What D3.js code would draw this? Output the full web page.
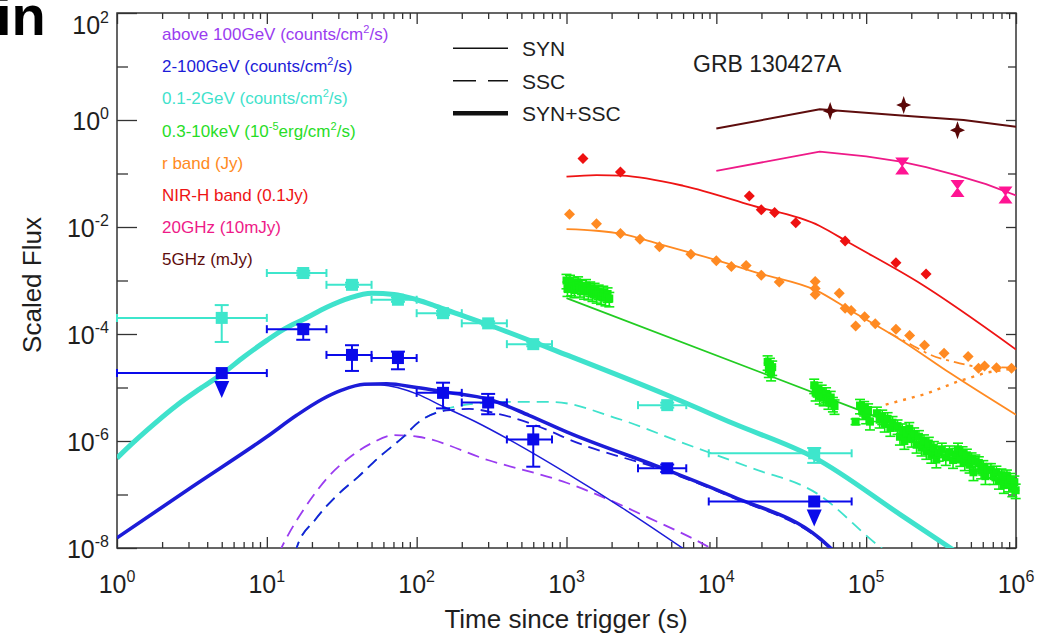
<!DOCTYPE html>
<html>
<head>
<meta http-equiv="Content-Type" content="text/html;charset=utf-8">
<title>GRB 130427A</title>
<script src="https://cdn.jsdelivr.net/npm/d3@7"></script>
<style type="text/css">
body { margin: 0; background: #fff; }
svg text { font-family: "Liberation Sans", Arial, Helvetica, sans-serif; fill: #1e1e1e; }
.tick line { stroke: #333; stroke-width: 1.3px; }
.frame { fill: none; stroke: #333; stroke-width: 1.5px; }
.model { fill: none; stroke-linejoin: round; }
</style>
</head>
<body>
<script type="text/javascript">
// values: time since trigger (s), scaled flux

// Fermi-LAT time bins, shared by both LAT bands
var latT  = [5, 17.5, 37, 75, 150, 300, 600, 4700, 45000];
var latT0 = [1, 10, 25, 50, 100, 200, 400, 3000, 8900];
var latT1 = [10, 25, 50, 100, 200, 400, 800, 6300, 80000];

// 0.1-2 GeV
var lowF  = [2.0e-4, 1.38e-3, 8.3e-4, 4.37e-4, 2.45e-4, 1.58e-4, 6.46e-5, 4.68e-6, 5.89e-7];
var lowLo = [7.1e-5, 1.25e-3, 7.6e-4, 4.0e-4, 2.25e-4, 1.45e-4, 5.9e-5, 4.2e-6, 3.9e-7];
var lowHi = [3.47e-4, 1.52e-3, 9.1e-4, 4.8e-4, 2.7e-4, 1.72e-4, 7.1e-5, 5.2e-6, 7.4e-7];

// 2-100 GeV (first and last are upper limits)
var highF  = [1.86e-5, 1.23e-4, 4.07e-5, 3.55e-5, 7.94e-6, 5.25e-6, 1.07e-6, 3.09e-7, 7.41e-8];
var highLo = [null, 7.8e-5, 2.04e-5, 2.19e-5, 4.07e-6, 3.16e-6, 3.31e-7, 2.63e-7, null];
var highHi = [null, 1.5e-4, 6.17e-5, 4.68e-5, 1.23e-5, 7.59e-6, 1.9e-6, 3.63e-7, null];
var highUL = [1, 0, 0, 0, 0, 0, 0, 0, 1];

// 0.3-10 keV: [time, flux, fractional error]
var xrt = [
  [1000,1.0e-3,.3],[1015,7.2e-4,.3],[1035,8.6e-4,.3],[1055,9.6e-4,.3],[1075,7.4e-4,.3],
  [1100,8.8e-4,.3],[1130,6.8e-4,.3],[1160,8.2e-4,.3],[1195,9.0e-4,.3],[1230,7.0e-4,.3],
  [1270,7.8e-4,.3],[1310,6.4e-4,.3],[1350,8.0e-4,.3],[1400,6.2e-4,.3],[1440,7.2e-4,.3],
  [1490,5.8e-4,.3],[1540,6.8e-4,.3],[1590,5.4e-4,.3],[1640,6.3e-4,.3],[1700,5.1e-4,.3],
  [1760,6.0e-4,.3],[1820,4.8e-4,.3],[1880,5.6e-4,.3],[1930,4.6e-4,.3],
  [22000,3.0e-5,.3],[22400,2.2e-5,.3],[22800,2.7e-5,.3],[23200,1.9e-5,.3],[23600,2.4e-5,.3],
  [45000,1.1e-5,.3],[46000,8.0e-6,.3],[47500,9.5e-6,.3],[49000,7.0e-6,.3],[50500,8.5e-6,.3],
  [52000,6.5e-6,.3],[54000,7.6e-6,.3],[56000,5.6e-6,.3],[58000,6.5e-6,.3],[60000,5.0e-6,.3],
  [61500,4.5e-6,.3],
  [85000,2.3e-6,.12],
  [91000,4.6e-6,.3],[94000,3.6e-6,.3],[97000,4.2e-6,.3],[100000,3.0e-6,.3],[103000,3.8e-6,.3],
  [106000,2.3e-6,.3],
  [118000,3.3e-6,.3],[123000,2.5e-6,.3],[128000,2.9e-6,.3],[133000,2.1e-6,.3],[139000,2.6e-6,.3],
  [145000,1.75e-6,.3],[150000,2.2e-6,.3],
  [162000,1.9e-6,.3],[168000,1.2e-6,.3],[174000,1.6e-6,.3],[180000,1.0e-6,.3],[187000,1.4e-6,.3],
  [194000,1.7e-6,.3],[201000,1.1e-6,.3],[209000,1.35e-6,.3],[217000,8.5e-7,.3],[225000,1.2e-6,.3],
  [234000,7.5e-7,.3],[243000,1.0e-6,.3],[252000,6.5e-7,.3],[262000,9.0e-7,.3],[272000,5.5e-7,.3],
  [283000,7.5e-7,.3],[294000,4.5e-7,.3],[305000,6.0e-7,.3],
  [320000,7.0e-7,.3],[340000,5.0e-7,.3],[360000,6.2e-7,.3],[380000,4.4e-7,.3],[400000,5.6e-7,.3],
  [410000,7.0e-7,.3],[425000,4.8e-7,.3],[440000,6.0e-7,.3],[455000,4.0e-7,.3],[470000,5.4e-7,.3],
  [490000,3.6e-7,.3],[505000,4.6e-7,.3],[520000,2.6e-7,.3],[535000,4.2e-7,.3],
  [565000,3.9e-7,.3],[585000,2.8e-7,.3],[605000,3.3e-7,.3],[625000,2.2e-7,.3],[645000,2.9e-7,.3],
  [680000,2.9e-7,.3],[710000,2.2e-7,.3],[740000,2.6e-7,.3],[770000,1.8e-7,.3],[800000,2.3e-7,.3],
  [830000,1.5e-7,.3],[850000,2.0e-7,.3],
  [870000,2.2e-7,.3],[895000,1.6e-7,.3],[920000,1.9e-7,.3],[945000,1.3e-7,.3],[975000,1.7e-7,.3],
  [995000,1.2e-7,.3]
];

// r band
var rT = [1047, 1585, 2290, 3090, 4170, 6760, 10000, 12600, 15800, 19950, 26300, 45700, 45700, 45700,
          66100, 72400, 79400, 85100, 97700, 115000, 158000, 195000, 245000, 331000, 479000, 562000,
          617000, 741000, 933000];
var rF = [0.0174, 0.01148, 7.59e-3, 5.89e-3, 4.27e-3, 3.09e-3, 2.34e-3, 1.82e-3, 1.9e-3, 1.26e-3,
          9.33e-4, 9.55e-4, 7.08e-4, 5.5e-4, 5.75e-4, 3.02e-4, 2.75e-4, 1.41e-4, 2.09e-4, 1.55e-4,
          1.23e-4, 9.33e-5, 6.17e-5, 4.37e-5, 3.8e-5, 2.29e-5, 2.51e-5, 2.34e-5, 2.29e-5];

// NIR H band
var hT = [1288, 2290, 16600, 19950, 24500, 33900, 72400, 158000, 251000];
var hF = [0.191, 0.107, 0.038, 0.0209, 0.0186, 0.012, 5.5e-3, 2.14e-3, 1.32e-3];

// 20 GHz and 5 GHz
var g20T = [174000, 407000, 851000];
var g20F = [0.138, 0.0525, 0.0398];
var g5T  = [57500, 178000, 407000];
var g5F  = [1.48, 1.905, 0.646];

// model curves, [time, flux]
var sscVhe = [[12.0,7.94e-9],[12.6,1.05e-8],[19.5,7.94e-8],[25.7,2.14e-7],[36.3,5.13e-7],[50.1,9.12e-7],
  [70.8,1.29e-6],[102,1.2e-6],[302,4.37e-7],[1000,1.66e-7],[3630,3.55e-8],[9120,1e-8],[10500,7.94e-9]];
var sscLow = [[15.5,7.94e-9],[15.8,1e-8],[20.9,3.31e-8],[28.8,9.12e-8],[40.7,2.14e-7],[56.2,5.01e-7],
  [79.4,1.12e-6],[105,2.34e-6],[158,3.98e-6],[251,5.01e-6],[398,5.37e-6],[794,5.37e-6],[2190,2.63e-6],
  [6030,9.12e-7],[17000,3.16e-7],[46800,1.05e-7],[120000,1.12e-8],[141000,7.94e-9]];
var sscHigh = [[15.5,7.94e-9],[15.8,1e-8],[20.9,3.31e-8],[28.8,9.12e-8],[40.7,2.14e-7],[56.2,5.01e-7],
  [79.4,1.12e-6],[105,2.34e-6],[158,3.72e-6],[224,3.98e-6],[347,3.24e-6],[813,1.45e-6],[1000,1.12e-6],
  [4680,2.69e-7],[12900,8.71e-8],[49000,1.45e-8],[63100,7.94e-9]];
var synHigh = [[1,1.55e-8],[3.16,1.38e-7],[10,1.2e-6],[15.8,3.02e-6],[23.4,6.03e-6],[31.6,8.91e-6],
  [44.7,1.15e-5],[57.5,1.12e-5],[100,7.59e-6],[151,4.37e-6],[251,2.24e-6],[417,1.05e-6],[1000,2.51e-7],
  [2510,5.01e-8],[6310,8.91e-9]];
var totHigh = [[1,1.55e-8],[3.16,1.38e-7],[10,1.2e-6],[15.8,3.02e-6],[23.4,6.03e-6],[31.6,8.91e-6],
  [44.7,1.15e-5],[63.1,1.175e-5],[100,1.0e-5],[151,8.32e-6],[309,5.89e-6],[562,3.02e-6],[1000,1.48e-6],
  [4680,2.88e-7],[12900,9.12e-8],[49000,1.51e-8],[63100,7.94e-9]];
var totLow = [[1,4.79e-7],[1.26,8.91e-7],[1.58,1.58e-6],[2.51,4.68e-6],[3.55,9.33e-6],[5.01,1.78e-5],
  [7.08,3.8e-5],[10,7.59e-5],[13.2,1.26e-4],[17.8,1.91e-4],[25.1,3.16e-4],[35.5,4.68e-4],[50.1,5.75e-4],
  [70.8,5.5e-4],[100,4.37e-4],[126,3.55e-4],[158,2.82e-4],[316,1.41e-4],[1000,4.07e-5],[4680,7.24e-6],
  [12900,2.14e-6],[45700,4.79e-7],[170000,4.17e-8],[398000,8.5e-9]];
var modelXrt = [[1000,4.68e-4],[95500,3.55e-6],[158000,2.04e-6]];
var modelR = [[1000,9.12e-3],[1585,8.51e-3],[2340,7.41e-3],[4170,4.79e-3],[10000,2.4e-3],[19500,1.35e-3],
  [46800,6.46e-4],[77600,2.82e-4],[170000,7.76e-5],[363000,1.86e-5],[1e6,3.09e-6]];
var modelRHost = [[141000,1.07e-4],[200000,6.31e-5],[269000,4.07e-5],[398000,2.95e-5],[562000,2.45e-5],[1e6,2.35e-5]];
var hostR = [[135000,4.79e-6],[251000,7.59e-6],[398000,1.26e-5],[631000,1.9e-5],[1e6,2.3e-5]];
var modelH = [[1000,0.0871],[1585,0.0933],[2340,0.0912],[6030,0.0589],[17000,0.0257],[49000,0.01047],
  [77600,5.01e-3],[219000,9.55e-4],[1e6,5.13e-5]];
var model20 = [[10000,0.112],[49000,0.257],[100000,0.209],[170000,0.166],[251000,0.132],[398000,0.0933],
  [631000,0.0631],[1e6,0.0389]];
var model5 = [[10000,0.692],[49000,1.585],[200000,1.18],[447000,1.0],[1e6,0.75]];

// axis labels and legends
var xTickExp = [0, 1, 2, 3, 4, 5, 6];
var yTickExp = [2, 0, -2, -4, -6, -8];
var bandLabels = [
  'above 100GeV (counts/cm^{2}/s)',
  '2-100GeV (counts/cm^{2}/s)',
  '0.1-2GeV (counts/cm^{2}/s)',
  '0.3-10keV (10^{-5}erg/cm^{2}/s)',
  'r band (Jy)',
  'NIR-H band (0.1Jy)',
  '20GHz (10mJy)',
  '5GHz (mJy)'
];
var bandColors = ['#9a3cf0', '#1c1cd8', '#3fe2cc', '#27dd27', '#ff8a22', '#ee1414', '#ee1a88', '#5e0d0d'];
var styleLabels = ['SYN', 'SSC', 'SYN+SSC'];

// ---- chart ----
var W = 1045, H = 639;
var pL = 117, pR = 1016, pT = 13, pB = 548;

var svg = d3.select('body').append('svg')
    .attr('width', W)
    .attr('height', H);

var x = d3.scaleLog().domain([1, 1e6]).range([pL, pR]);
var y = d3.scaleLog().domain([1e-8, 1e2]).range([pB, pT]);

svg.append('defs').append('clipPath').attr('id', 'plot')
  .append('rect')
    .attr('x', pL).attr('y', pT)
    .attr('width', pR - pL).attr('height', pB - pT);

// text with ^{...} superscripts
function rich(parent, tx, ty, str, size, supSize, rise, anchor) {
    var t = parent.append('text')
        .attr('x', tx).attr('y', ty)
        .attr('font-size', size)
        .attr('text-anchor', anchor || 'start');
    var bits = str.split(/\^\{([^}]*)\}/), lift = 0;
    bits.forEach(function(b, i) {
        if (b === '') return;
        var sup = i % 2 === 1, want = sup ? -rise : 0;
        var s = t.append('tspan').text(b);
        if (want !== lift) { s.attr('dy', want - lift); lift = want; }
        if (sup) s.attr('font-size', supSize);
    });
    return t;
}

// axes: inward ticks on all four sides
var xMajor = xTickExp.map(function(e) { return Math.pow(10, e); });
var xMinor = [];
d3.range(0, 6).forEach(function(e) {
    d3.range(2, 10).forEach(function(m) { xMinor.push(m * Math.pow(10, e)); });
});
var yAll = d3.range(-8, 3).map(function(e) { return Math.pow(10, e); });
var yMajor = yTickExp.map(function(e) { return Math.pow(10, e); });
var yOdd = yAll.filter(function(v) { return yMajor.indexOf(v) < 0; });

function ticks(axis, tr) {
    svg.append('g').attr('transform', tr).call(axis.tickFormat(''))
        .call(function(g) { g.select('.domain').remove(); });
}
ticks(d3.axisBottom(x).tickValues(xMajor).tickSize(-11), 'translate(0,' + pB + ')');
ticks(d3.axisBottom(x).tickValues(xMinor).tickSize(-6), 'translate(0,' + pB + ')');
ticks(d3.axisTop(x).tickValues(xMajor).tickSize(-11), 'translate(0,' + pT + ')');
ticks(d3.axisTop(x).tickValues(xMinor).tickSize(-6), 'translate(0,' + pT + ')');
ticks(d3.axisLeft(y).tickValues(yMajor).tickSize(-20), 'translate(' + pL + ',0)');
ticks(d3.axisLeft(y).tickValues(yOdd).tickSize(-11), 'translate(' + pL + ',0)');
ticks(d3.axisRight(y).tickValues(yMajor).tickSize(-10), 'translate(' + pR + ',0)');
ticks(d3.axisRight(y).tickValues(yOdd).tickSize(-8), 'translate(' + pR + ',0)');

svg.append('rect').attr('class', 'frame')
    .attr('x', pL).attr('y', pT)
    .attr('width', pR - pL).attr('height', pB - pT);

xTickExp.forEach(function(e) {
    rich(svg, x(Math.pow(10, e)), 593, '10^{' + e + '}', 25, 16, 11, 'middle');
});
yTickExp.forEach(function(e) {
    var by = Math.max(y(Math.pow(10, e)) + 10, 34);
    rich(svg, 109, by, '10^{' + e + '}', 25, 16, 11, 'end');
});

svg.append('text')
    .attr('x', 566).attr('y', 628)
    .attr('font-size', 26)
    .attr('text-anchor', 'middle')
    .text('Time since trigger (s)');
svg.append('text')
    .attr('transform', 'translate(41,285) rotate(-90)')
    .attr('font-size', 26)
    .attr('text-anchor', 'middle')
    .text('Scaled Flux');

// stray glyphs cut from the neighbouring figure
svg.append('text')
    .attr('x', -4).attr('y', 35)
    .attr('font-size', 56)
    .attr('font-weight', 'bold')
    .style('fill', '#000')
    .text('in');

svg.append('text')
    .attr('x', 693).attr('y', 72)
    .attr('font-size', 23)
    .text('GRB 130427A');

// ---- model curves ----
var smooth = d3.line()
    .x(function(d) { return x(d[0]); })
    .y(function(d) { return y(d[1]); })
    .curve(d3.curveMonotoneX);
var straight = d3.line()
    .x(function(d) { return x(d[0]); })
    .y(function(d) { return y(d[1]); });

var models = svg.append('g').attr('clip-path', 'url(#plot)');
function curve(data, color, width, dash, gen) {
    models.append('path')
        .datum(data)
        .attr('class', 'model')
        .attr('d', (gen || smooth))
        .attr('stroke', color)
        .attr('stroke-width', width)
        .attr('stroke-dasharray', dash || null);
}

curve(sscVhe, bandColors[0], 1.8, '12,7');
curve(sscLow, bandColors[2], 1.8, '12,7');
curve(sscHigh, bandColors[1], 1.8, '12,7');
curve(synHigh, bandColors[1], 1.5);
curve(totHigh, bandColors[1], 3.6);
curve(totLow, bandColors[2], 5);
curve(modelXrt, '#22cc22', 1.8, null, straight);
curve(hostR, bandColors[4], 2.4, '3,6', straight);
curve(modelRHost, bandColors[4], 1.8, '11,5,3,5');
curve(modelR, bandColors[4], 1.8);
curve(modelH, bandColors[5], 1.8);
curve(model20, bandColors[6], 1.8, null, straight);
curve(model5, bandColors[7], 2, null, straight);

// ---- data ----
var pts = svg.append('g');

// X-ray points with error bars
var gx = pts.append('g')
    .attr('stroke', '#12ee12')
    .attr('fill', '#12ee12')
    .attr('stroke-width', 1.6);
xrt.forEach(function(d) {
    var cx = x(d[0]), y0 = y(d[1] * (1 - d[2])), y1 = y(d[1] * (1 + d[2]));
    gx.append('line').attr('x1', cx).attr('x2', cx).attr('y1', y0).attr('y2', y1);
    gx.append('line').attr('x1', cx - 5).attr('x2', cx + 5).attr('y1', y0).attr('y2', y0);
    gx.append('line').attr('x1', cx - 5).attr('x2', cx + 5).attr('y1', y1).attr('y2', y1);
    gx.append('rect').attr('x', cx - 4).attr('y', y(d[1]) - 4)
        .attr('width', 8).attr('height', 8).attr('stroke', 'none');
});

// LAT points
function lat(F, Lo, Hi, UL, color) {
    var g = pts.append('g')
        .attr('stroke', color)
        .attr('fill', color)
        .attr('stroke-width', 2);
    latT.forEach(function(t, i) {
        var cx = x(t), cy = y(F[i]), xa = x(latT0[i]), xb = x(latT1[i]);
        g.append('line').attr('x1', xa).attr('x2', xb).attr('y1', cy).attr('y2', cy);
        g.append('line').attr('x1', xa).attr('x2', xa).attr('y1', cy - 4).attr('y2', cy + 4);
        g.append('line').attr('x1', xb).attr('x2', xb).attr('y1', cy - 4).attr('y2', cy + 4);
        if (Lo[i] !== null) {
            var ya = y(Lo[i]), yb = y(Hi[i]);
            g.append('line').attr('x1', cx).attr('x2', cx).attr('y1', ya).attr('y2', yb);
            g.append('line').attr('x1', cx - 7).attr('x2', cx + 7).attr('y1', ya).attr('y2', ya);
            g.append('line').attr('x1', cx - 7).attr('x2', cx + 7).attr('y1', yb).attr('y2', yb);
        }
        g.append('rect').attr('x', cx - 6).attr('y', cy - 6)
            .attr('width', 12).attr('height', 12).attr('stroke', 'none');
        if (UL && UL[i]) {
            g.append('path').attr('stroke', 'none')
                .attr('d', 'M' + (cx - 7.5) + ',' + (cy + 8) + 'h15l-7.5,17z');
        }
    });
}
lat(lowF, lowLo, lowHi, null, '#3ee6cc');
lat(highF, highLo, highHi, highUL, '#0a0aea');

// optical, NIR and radio markers
function marks(T, F, color, shape) {
    pts.append('g').selectAll('path')
        .data(T)
      .enter().append('path')
        .attr('d', shape)
        .attr('fill', color)
        .attr('transform', function(t, i) { return 'translate(' + x(t) + ',' + y(F[i]) + ')'; });
}
var diamond = 'M0,-5.5L5.5,0L0,5.5L-5.5,0Z';
var bowtie = 'M-7,-8.5H7L0.8,0L7,8.5H-7L-0.8,0Z';
var star = 'M0,-9L2.3,-2.3L7.5,0L2.3,2.3L0,9L-2.3,2.3L-7.5,0L-2.3,-2.3Z';
marks(rT, rF, '#ff8a22', diamond);
marks(hT, hF, '#ee1111', diamond);
marks(g20T, g20F, '#ff1493', bowtie);
marks(g5T, g5F, '#5a0707', star);

// ---- legends ----
bandLabels.forEach(function(s, i) {
    rich(svg, 162, 40 + i * 32.2, s, 17, 11, 7).style('fill', bandColors[i]);
});

var lg = svg.append('g');
var styleDash = [null, '23,12', null];
var styleWidth = [1.5, 1.5, 4.5];
styleLabels.forEach(function(s, i) {
    var ly = 48.3 + i * 32.5;
    lg.append('line')
        .attr('x1', 453).attr('x2', 508)
        .attr('y1', ly).attr('y2', ly)
        .attr('stroke', '#111')
        .attr('stroke-width', styleWidth[i])
        .attr('stroke-dasharray', styleDash[i]);
    lg.append('text')
        .attr('x', 522).attr('y', ly + 8)
        .attr('font-size', 21)
        .text(s);
});
</script>
</body>
</html>
